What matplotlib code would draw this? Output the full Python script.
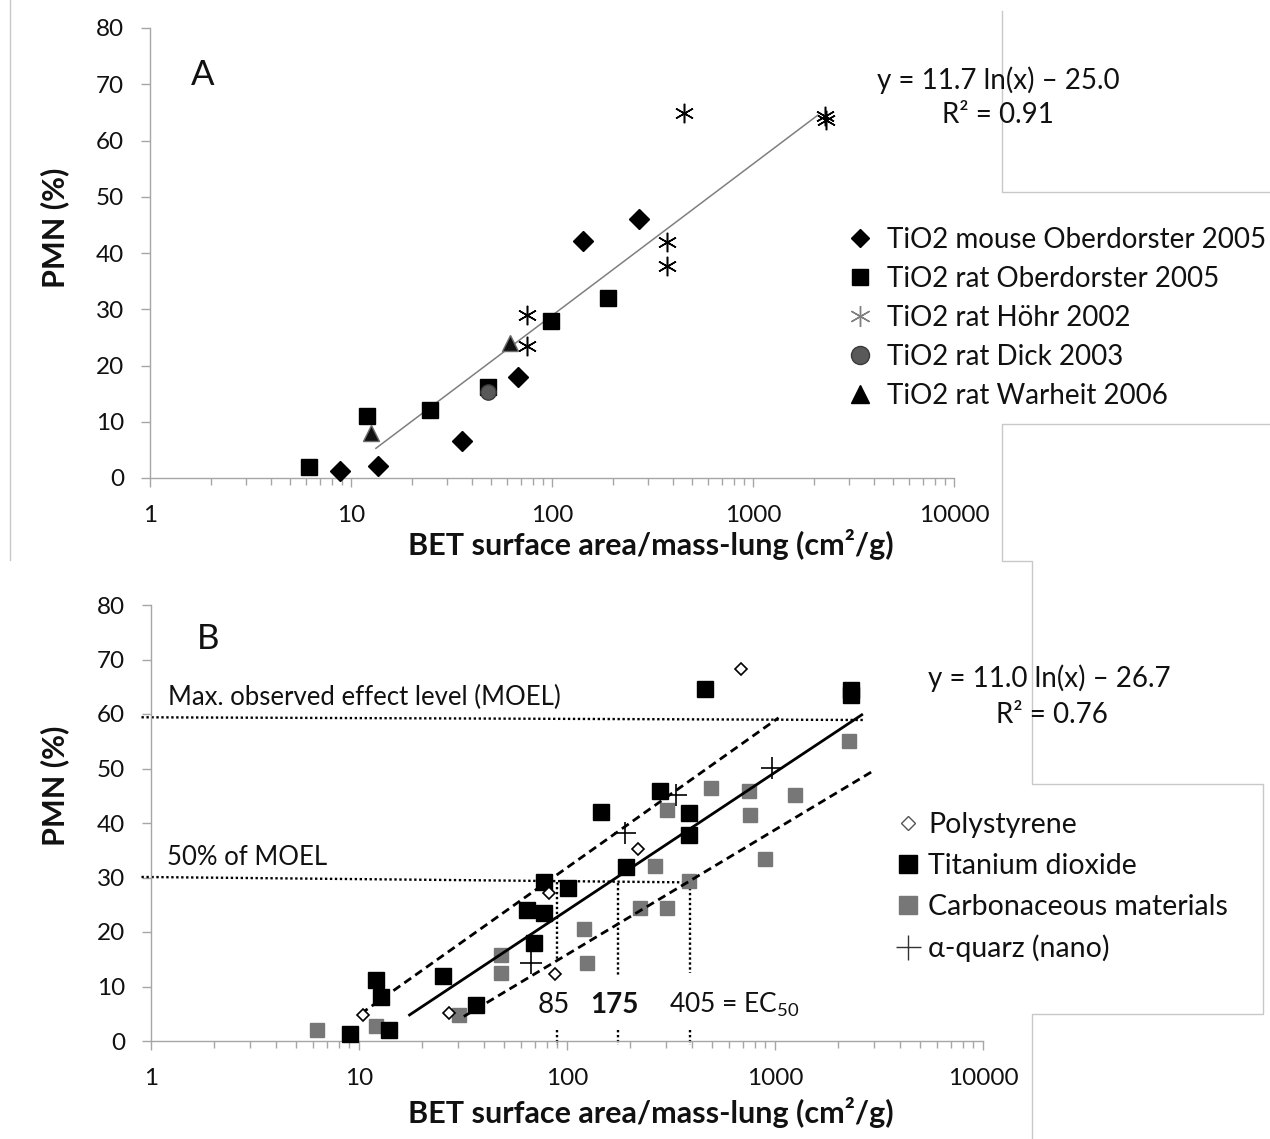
import numpy as np
import matplotlib
matplotlib.use("Agg")
import matplotlib.pyplot as plt
from matplotlib.lines import Line2D
from matplotlib.ticker import LogLocator, NullFormatter

plt.rcParams["font.family"] = ["Lato", "DejaVu Sans"]
plt.rcParams["mathtext.fontset"] = "custom"
plt.rcParams["mathtext.rm"] = "Lato"
plt.rcParams["mathtext.bf"] = "Lato:bold"

# ---------------- panel A data (TiO2 studies) ----------------
mouse_ob_x = [8.8, 13.6, 35.7, 68, 142, 271]
mouse_ob_y = [1.2, 2.1, 6.6, 18.0, 42.1, 46.0]
rat_ob_x = [6.2, 12.0, 24.7, 48, 99, 190]
rat_ob_y = [2.0, 11.0, 12.1, 16.2, 27.9, 32.0]
hohr_x = [75, 75, 373, 373, 454, 2280, 2300]
hohr_y = [29.0, 23.5, 41.9, 37.7, 64.9, 64.4, 63.6]
dick_x = [48]
dick_y = [15.3]
warheit_x = [12.6, 61.8]
warheit_y = [8.0, 24.0]
fit_a = (11.7, -25.0)          # slope, intercept of y = a ln(x) + b
fit_a_range = [13.3, 2100]

# ---------------- panel B data (all materials) ----------------
poly_x = [10.4, 27, 82, 88, 220, 690]
poly_y = [4.8, 5.1, 27.2, 12.3, 35.2, 68.3]
tio2_x = [9.1, 12.1, 12.8, 13.9, 25.3, 36.4, 69.3, 64.2, 77.5, 77.5, 101,
          146, 192, 281, 387, 387, 462, 2312, 2312]
tio2_y = [1.3, 11.2, 8.1, 2.0, 11.9, 6.6, 18.0, 24.0, 23.5, 29.2, 28.1,
          42.0, 31.9, 45.9, 41.8, 37.8, 64.6, 64.4, 63.5]
carb_x = [6.3, 12.1, 30.2, 48.1, 48.1, 121, 125, 225, 303, 265, 303, 387,
          494, 754, 762, 900, 1242, 2260]
carb_y = [2.0, 2.7, 4.8, 15.8, 12.5, 20.6, 14.3, 24.4, 24.4, 32.1, 42.4,
          29.4, 46.4, 45.9, 41.5, 33.4, 45.1, 55.0]
quarz_x = [67.1, 190, 335, 962]
quarz_y = [14.3, 38.2, 45.1, 50.1]
fit_b = (11.0, -26.7)
fit_b_range = [17.5, 2612]
upper_band_x = [10.2, 1040]
upper_band_y = [5.0, 59.3]
lower_band_x = [31.9, 2918]
lower_band_y = [4.5, 49.4]
moel_x = [0.9, 2672]
moel_y = [59.4, 58.9]
half_moel_x = [0.9, 392]
half_moel_y = [30.1, 29.1]
ec_x = [90, 176, 392]
ec_labels = ["85", "175", "405 = EC$_{50}$"]
ec_top = [29.2, 29.0, 29.0]
ec_bottom = [14.6, 12.2, 12.5]

W, H = 1270, 1139
AXIS_GRAY = "#a6a6a6"
FRAME_GRAY = "#c8c8c8"
TEXT = "#111111"


def fx(px):
    return px / W


def fy(py):
    return 1 - py / H


def style_axes(ax):
    ax.set_xscale("log")
    ax.set_xlim(1, 10000)
    ax.set_ylim(0, 80)
    ax.set_yticks(range(0, 81, 10))
    ax.set_xticks([1, 10, 100, 1000, 10000])
    ax.set_xticklabels(["1", "10", "100", "1000", "10000"])
    ax.xaxis.set_minor_locator(LogLocator(base=10, subs=range(2, 10)))
    ax.xaxis.set_minor_formatter(NullFormatter())
    for side in ("top", "right"):
        ax.spines[side].set_visible(False)
    for side in ("left", "bottom"):
        ax.spines[side].set_color(AXIS_GRAY)
        ax.spines[side].set_linewidth(1.0)
    ax.tick_params(which="major", length=6.5, width=1.0, color=AXIS_GRAY,
                   labelsize=17.5, labelcolor=TEXT)
    ax.tick_params(axis="x", which="major", pad=13)
    ax.tick_params(axis="y", which="major", pad=12)
    ax.tick_params(which="minor", length=5, width=1.0, color=AXIS_GRAY)
    ax.patch.set_alpha(0)


fig = plt.figure(figsize=(W / 100, H / 100), dpi=100)

# gray frame edges left over from the pasted panels
frame_paths = [
    [(1002, 11), (1002, 192), (1270, 192)],
    [(1270, 424), (1002, 424), (1002, 561), (1032, 561), (1032, 784),
     (1263, 784), (1263, 1014), (1032, 1014), (1032, 1139)],
    [(10, 0), (10, 560)],
]
for path in frame_paths:
    xs = [fx(p[0]) for p in path]
    ys = [fy(p[1]) for p in path]
    fig.add_artist(Line2D(xs, ys, color=FRAME_GRAY, lw=1.0,
                          transform=fig.transFigure))

# ---------------- panel A ----------------
axA = fig.add_axes([fx(150), fy(478), fx(954) - fx(150), fy(28) - fy(478)])
style_axes(axA)

xa = np.array(fit_a_range)
axA.plot(xa, fit_a[0] * np.log(xa) + fit_a[1], color="#7f7f7f", lw=1.1, zorder=2)

axA.plot(mouse_ob_x, mouse_ob_y, ls="none", marker="D", ms=10, color="black",
         clip_on=False, zorder=3)
axA.plot(rat_ob_x, rat_ob_y, ls="none", marker="s", ms=11, color="black",
         clip_on=False, zorder=3)
axA.plot(hohr_x, hohr_y, ls="none", marker=(6, 2, 0), ms=14, mew=1.1,
         color="black", clip_on=False, zorder=3)
axA.plot(dick_x, dick_y, ls="none", marker="o", ms=11, mfc="#595959",
         mec="#3a3a3a", mew=1.0, clip_on=False, zorder=4)
axA.plot(warheit_x, warheit_y, ls="none", marker="^", ms=12, mfc="#111111",
         mec="#6a6a6a", mew=1.0, clip_on=False, zorder=3)

handles_a = [
    Line2D([], [], ls="none", marker="D", ms=9, color="black"),
    Line2D([], [], ls="none", marker="s", ms=12, color="black"),
    Line2D([], [], ls="none", marker=(6, 2, 0), ms=15, mew=1.0, color="#7f7f7f"),
    Line2D([], [], ls="none", marker="o", ms=13, mfc="#595959", mec="#3a3a3a"),
    Line2D([], [], ls="none", marker="^", ms=13, color="black"),
]
labels_a = ["TiO2 mouse Oberdorster 2005", "TiO2 rat Oberdorster 2005",
            "TiO2 rat Höhr 2002", "TiO2 rat Dick 2003", "TiO2 rat Warheit 2006"]
axA.legend(handles_a, labels_a, loc="upper left",
           bbox_to_anchor=(fx(846), fy(227)), bbox_transform=fig.transFigure,
           frameon=False, fontsize=20, borderpad=0, borderaxespad=0,
           handlelength=1.03, handletextpad=0.45, labelspacing=0.47,
           labelcolor=TEXT)

fig.text(fx(203), fy(75), "A", fontsize=25, ha="center", va="center", color=TEXT)
fig.text(fx(998), fy(80), "y = 11.7 ln(x) – 25.0", fontsize=20, ha="center",
         va="center", color=TEXT)
fig.text(fx(998), fy(115), "R² = 0.91", fontsize=20, ha="center", va="center",
         color=TEXT)
fig.text(fx(651), fy(545), "BET surface area/mass-lung (cm²/g)", fontsize=22,
         fontweight="bold", ha="center", va="center", color=TEXT)
fig.text(fx(55), fy(228), "PMN (%)", fontsize=22, fontweight="bold",
         rotation=90, ha="center", va="center", color=TEXT)

# ---------------- panel B ----------------
axB = fig.add_axes([fx(151), fy(1041), fx(983) - fx(151), fy(605) - fy(1041)])
style_axes(axB)

dot = (0, (1, 1.1))
axB.plot(moel_x, moel_y, color="black", lw=1.7, ls=dot, clip_on=False, zorder=2)
axB.plot(half_moel_x, half_moel_y, color="black", lw=1.7, ls=dot,
         clip_on=False, zorder=2)
for x, top, bottom in zip(ec_x, ec_top, ec_bottom):
    axB.plot([x, x], [top, bottom], color="black", lw=1.7, ls=dot, zorder=2)
    axB.plot([x, x], [2.0, -0.8], color="black", lw=1.7, ls=dot,
             clip_on=False, zorder=2)

xb = np.array(fit_b_range)
axB.plot(xb, fit_b[0] * np.log(xb) + fit_b[1], color="black", lw=2.0, zorder=4)
dash = (0, (3.0, 1.8))
axB.plot(upper_band_x, upper_band_y, color="black", lw=2.0, ls=dash, zorder=4)
axB.plot(lower_band_x, lower_band_y, color="black", lw=2.0, ls=dash, zorder=4)

axB.plot(carb_x, carb_y, ls="none", marker="s", ms=10.5, color="#777777",
         clip_on=False, zorder=3)
axB.plot(tio2_x, tio2_y, ls="none", marker="s", ms=11, color="black",
         clip_on=False, zorder=3)
axB.plot(poly_x, poly_y, ls="none", marker="D", ms=6.5, mfc="white",
         mec="black", mew=1.2, clip_on=False, zorder=5)
axB.plot(quarz_x, quarz_y, ls="none", marker="+", ms=16, mew=1.2,
         color="black", clip_on=False, zorder=5)

handles_b = [
    Line2D([], [], ls="none", marker="D", ms=7.5, mfc="white", mec="#555555", mew=1.0),
    Line2D([], [], ls="none", marker="s", ms=12.5, color="black"),
    Line2D([], [], ls="none", marker="s", ms=12.5, color="#777777"),
    Line2D([], [], ls="none", marker="+", ms=18, mew=1.0, color="#333333"),
]
labels_b = ["Polystyrene", "Titanium dioxide", "Carbonaceous materials",
            "α-quarz (nano)"]
axB.legend(handles_b, labels_b, loc="upper left",
           bbox_to_anchor=(fx(894), fy(812)), bbox_transform=fig.transFigure,
           frameon=False, fontsize=20.5, borderpad=0, borderaxespad=0,
           handlelength=1.0, handletextpad=0.19, labelspacing=0.52,
           labelcolor=TEXT)

axB.text(86.6, 6.6, ec_labels[0], fontsize=20, ha="center", va="center", color=TEXT)
axB.text(168.5, 6.6, ec_labels[1], fontsize=20, fontweight="bold", ha="center",
         va="center", color=TEXT)
axB.text(310, 6.6, ec_labels[2], fontsize=19, ha="left", va="center", color=TEXT)
axB.text(1.21, 60.8, "Max. observed effect level (MOEL)", fontsize=18.5,
         ha="left", va="bottom", color=TEXT)
axB.text(1.19, 31.3, "50% of MOEL", fontsize=18.5, ha="left", va="bottom",
         color=TEXT)

fig.text(fx(208), fy(639), "B", fontsize=25, ha="center", va="center", color=TEXT)
fig.text(fx(1049), fy(678), "y = 11.0 ln(x) – 26.7", fontsize=20, ha="center",
         va="center", color=TEXT)
fig.text(fx(1052), fy(715), "R² = 0.76", fontsize=20, ha="center", va="center",
         color=TEXT)
fig.text(fx(651), fy(1112), "BET surface area/mass-lung (cm²/g)", fontsize=22,
         fontweight="bold", ha="center", va="center", color=TEXT)
fig.text(fx(55), fy(786), "PMN (%)", fontsize=22, fontweight="bold",
         rotation=90, ha="center", va="center", color=TEXT)

fig.savefig("out.png", dpi=100, facecolor="white")
